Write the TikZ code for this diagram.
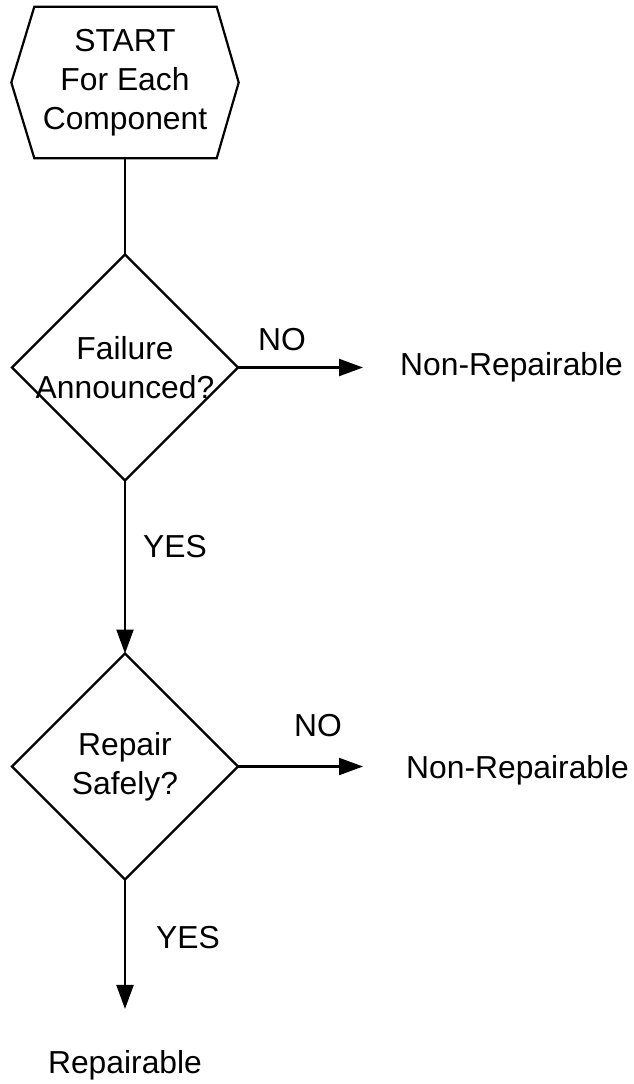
\documentclass[tikz,border=0pt]{standalone}
\usepackage{fontspec}
\setmainfont{Liberation Sans}
\usetikzlibrary{shapes.geometric,arrows.meta}
\begin{document}
\begin{tikzpicture}[x=1pt,y=1pt,
  every node/.style={font=\fontsize{31.8}{39}\selectfont, align=center},
  line/.style={line width=2.2pt, line join=miter},
  flow/.style={line, -{Triangle[length=24pt,width=17pt]}},
  decision/.style={diamond, draw, line width=2.2pt, minimum width=226pt, minimum height=226pt, inner sep=0pt, outer sep=0pt, aspect=1},
  lbl/.style={inner sep=0pt}
]
\useasboundingbox (0,0) rectangle (634,-1084);
% start hexagon
\node[minimum width=227pt, minimum height=151pt, inner sep=0pt] (start) at (125,-82.5) {START\\For Each\\Component};
\draw[line] (start.west) -- ([xshift=23pt]start.north west) -- ([xshift=-22pt]start.north east) -- (start.east) -- ([xshift=-22pt]start.south east) -- ([xshift=23pt]start.south west) -- cycle;
% decisions
\node[decision] (d1) at (125,-367.5) {};
\node[lbl] (t1) at (d1.center) {Failure\\Announced?};
\node[decision] (d2) at (125,-766.5) {};
\node[lbl] (t2) at (d2.center) {Repair\\Safely?};
% outcomes
\node[lbl, anchor=west] (nr1) at (400,-367) {Non-Repairable};
\node[lbl, anchor=west] (nr2) at (406,-770) {Non-Repairable};
\node[lbl] (rep) at (125,-1065) {Repairable};
% labels
\node[lbl] (no1) at (282,-340) {NO};
\node[lbl] (no2) at (318,-726) {NO};
\node[lbl] (yes1) at (175,-547) {YES};
\node[lbl] (yes2) at (188,-938) {YES};
% connectors
\draw[line] (start.south) -- (d1.north);
\draw[flow, shorten >=37pt] (d1.east) -- (d1.east -| nr1.west);
\draw[flow] (d1.south) -- (d2.north);
\draw[flow, shorten >=43pt] (d2.east) -- (d2.east -| nr2.west);
\draw[flow, shorten >=41pt] (d2.south) -- (rep.north);
\end{tikzpicture}
\end{document}
